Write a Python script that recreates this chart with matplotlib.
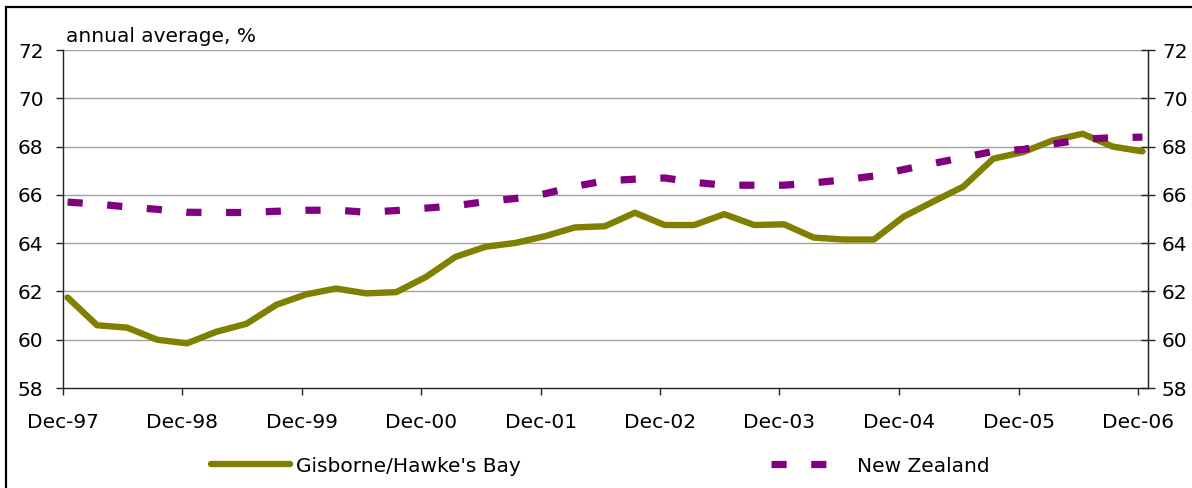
import matplotlib
matplotlib.use("Agg")
import matplotlib.pyplot as plt
import matplotlib.dates as mdates
import pandas as pd
from matplotlib.patches import Rectangle

# quarterly observations, Dec-97 .. Dec-06 (annual average, %)
quarters = pd.date_range("1997-12-01", periods=37, freq="3MS") + pd.Timedelta(days=14)

gisborne = [61.75, 60.6, 60.5, 60.0, 59.85, 60.33, 60.66, 61.45, 61.88, 62.12,
            61.92, 61.97, 62.6, 63.43, 63.85, 64.01, 64.29, 64.65, 64.7, 65.26,
            64.75, 64.75, 65.2, 64.75, 64.78, 64.23, 64.15, 64.15, 65.1, 65.72,
            66.34, 67.5, 67.77, 68.25, 68.53, 68.0, 67.8]

new_zealand = [65.7, 65.62, 65.5, 65.4, 65.28, 65.27, 65.27, 65.32, 65.36, 65.37,
               65.28, 65.35, 65.45, 65.55, 65.72, 65.85, 66.05, 66.35, 66.58, 66.65,
               66.7, 66.52, 66.4, 66.4, 66.4, 66.5, 66.62, 66.78, 67.05, 67.3,
               67.55, 67.8, 67.88, 68.1, 68.3, 68.37, 68.39]

tick_dates = pd.date_range("1997-12-01", "2006-12-01", freq="12MS")
y_ticks = [58, 60, 62, 64, 66, 68, 70, 72]

W, H = 1192, 488
fig = plt.figure(figsize=(W / 100, H / 100), dpi=100)
ax = fig.add_axes([63 / W, 1 - 388 / H, (1148 - 63) / W, (388 - 50) / H])

fs = 14.5

ax.plot(quarters, gisborne, color="#808000", lw=4.6, solid_capstyle="round",
        solid_joinstyle="round", label="Gisborne/Hawke's Bay", zorder=3)
ax.plot(quarters, new_zealand, color="#800080", lw=5.2, dashes=(2.1, 3.4),
        dash_capstyle="butt", label="New Zealand", zorder=3)

ax.set_xlim(pd.Timestamp("1997-12-01"), pd.Timestamp("2007-01-01"))
ax.set_ylim(58, 72)
ax.set_xticks(tick_dates)
ax.xaxis.set_major_formatter(mdates.DateFormatter("%b-%y"))
ax.set_yticks(y_ticks)

for y in y_ticks[1:]:
    ax.axhline(y, color="#a0a0a0", lw=1.0, zorder=1)

ax.spines["top"].set_visible(False)
for s in ("left", "right", "bottom"):
    ax.spines[s].set_color("#222222")
    ax.spines[s].set_linewidth(1.0)

ax.tick_params(axis="x", direction="out", length=5, width=1, pad=13,
               labelsize=fs, color="#222222")
ax.tick_params(axis="y", which="both", left=True, right=False, direction="out",
               length=5, width=1, pad=9, labelsize=fs, color="#222222")
ax2 = ax.twinx()
ax2.set_ylim(58, 72)
ax2.set_yticks(y_ticks)
ax2.tick_params(axis="y", direction="inout", length=10, width=1, pad=5,
                labelsize=fs, color="#222222")
for s in ("top", "left", "bottom"):
    ax2.spines[s].set_visible(False)
ax2.spines["right"].set_color("#222222")

fig.text(66 / W, 1 - 37 / H, "annual average, %", fontsize=fs, va="center", ha="left")

fig.legend(loc="center", bbox_to_anchor=(600 / W, 1 - 466 / H), ncol=2,
           frameon=False, fontsize=fs, handlelength=3.95, handletextpad=0.3,
           columnspacing=12.4)

# outer frame of the exhibit (cropped at right and bottom)
fig.patches.append(Rectangle((6 / W, -0.1), 1.2, 1 - 7 / H + 0.1,
                             transform=fig.transFigure, fill=False,
                             edgecolor="black", lw=1.6))

fig.savefig("out.png", dpi=100)
